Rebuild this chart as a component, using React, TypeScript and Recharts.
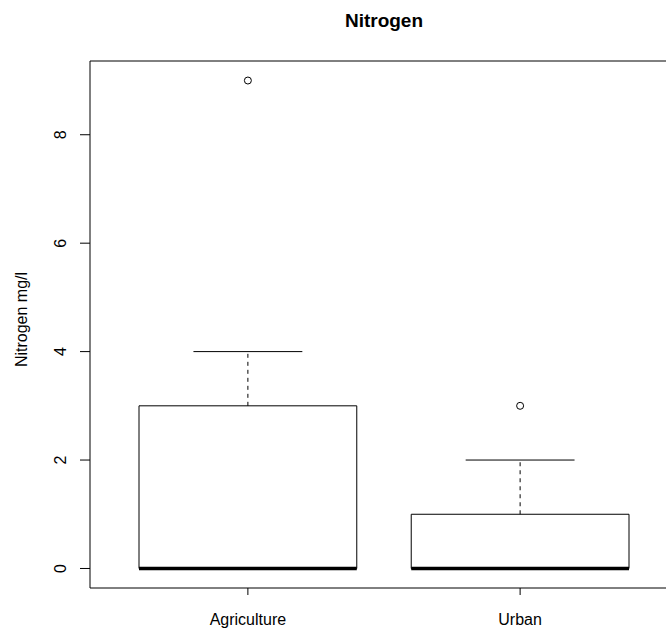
import React from 'react';
import {
  ComposedChart,
  XAxis,
  YAxis,
  Scatter,
  ReferenceArea,
  ReferenceLine,
  Label,
} from 'recharts';

const categories = ['Agriculture', 'Urban'];
const positions = [1, 2];
const lowerWhisker = [0, 0];
const q1 = [0, 0];
const median = [0, 0];
const q3 = [3, 1];
const upperWhisker = [4, 2];
const outliers = [
  { x: 1, y: 9 },
  { x: 2, y: 3 },
];
const yTicks = [0, 2, 4, 6, 8];

const X_DOMAIN: [number, number] = [0.42, 2.58];
const Y_DOMAIN: [number, number] = [-0.36, 9.36];
const BOX_HALF = 0.4;
const CAP_HALF = 0.2;
const FONT = '"Liberation Sans", Arial, sans-serif';

const YTick = (props: any) => {
  const { x, y, payload } = props;
  return (
    <text
      x={x}
      y={y}
      dy={5.7}
      textAnchor="middle"
      fontFamily={FONT}
      fontSize={16}
      fill="#000"
      transform={`rotate(-90, ${x}, ${y})`}
    >
      {payload.value}
    </text>
  );
};

const YLabel = (props: any) => {
  const vb = props.viewBox || {};
  const cy = vb.y !== undefined ? vb.y + vb.height / 2 - 5 : 319;
  const lx = 27;
  return (
    <text
      x={lx}
      y={cy}
      textAnchor="middle"
      fontFamily={FONT}
      fontSize={16}
      fill="#000"
      transform={`rotate(-90, ${lx}, ${cy})`}
    >
      Nitrogen mg/l
    </text>
  );
};

const OutlierDot = (props: any) => {
  const { cx, cy } = props;
  return <circle cx={cx} cy={cy} r={3.5} fill="#fff" stroke="#000" strokeWidth={1} />;
};

export default function App() {
  return (
    <div
      style={{
        position: 'absolute',
        left: 0,
        top: 0,
        width: 666,
        height: 631,
        overflow: 'hidden',
        background: '#fff',
      }}
    >
      <div
        style={{
          position: 'absolute',
          left: 0,
          top: 11.4,
          width: 768,
          textAlign: 'center',
          fontFamily: FONT,
          fontWeight: 'bold',
          fontSize: 19,
          lineHeight: '19px',
          color: '#000',
        }}
      >
        Nitrogen
      </div>
      <ComposedChart
        width={700}
        height={631}
        margin={{ top: 61, right: 22, bottom: 0, left: 0 }}
      >
        <XAxis
          type="number"
          dataKey="x"
          domain={X_DOMAIN}
          ticks={positions}
          tickFormatter={(v: number) => categories[Math.round(v) - 1]}
          allowDataOverflow
          axisLine={false}
          tickSize={7}
          tickMargin={19}
          height={43}
          tickLine={{ stroke: '#000' }}
          tick={{ fontFamily: FONT, fontSize: 16, fill: '#000' }}
          interval={0}
        />
        <YAxis
          type="number"
          dataKey="y"
          domain={Y_DOMAIN}
          ticks={yTicks}
          allowDataOverflow
          axisLine={false}
          tickSize={10}
          tickMargin={20}
          width={90}
          tickLine={{ stroke: '#000' }}
          tick={<YTick />}
          interval={0}
        >
          <Label content={<YLabel />} />
        </YAxis>

        {/* plot frame */}
        <ReferenceArea
          x1={X_DOMAIN[0]}
          x2={X_DOMAIN[1]}
          y1={Y_DOMAIN[0]}
          y2={Y_DOMAIN[1]}
          fill="none"
          fillOpacity={0}
          stroke="#000"
          strokeWidth={1}
          strokeOpacity={1}
        />

        {positions.map((p, i) => (
          <ReferenceLine
            key={`wu-${i}`}
            segment={[
              { x: p, y: q3[i] },
              { x: p, y: upperWhisker[i] },
            ]}
            stroke="#000"
            strokeWidth={1}
            strokeDasharray="4 4"
          />
        ))}
        {positions.map((p, i) => (
          <ReferenceLine
            key={`wl-${i}`}
            segment={[
              { x: p, y: lowerWhisker[i] },
              { x: p, y: q1[i] },
            ]}
            stroke="#000"
            strokeWidth={1}
            strokeDasharray="4 4"
          />
        ))}
        {positions.map((p, i) => (
          <ReferenceLine
            key={`cu-${i}`}
            segment={[
              { x: p - CAP_HALF, y: upperWhisker[i] },
              { x: p + CAP_HALF, y: upperWhisker[i] },
            ]}
            stroke="#000"
            strokeWidth={1}
          />
        ))}
        {positions.map((p, i) => (
          <ReferenceLine
            key={`cl-${i}`}
            segment={[
              { x: p - CAP_HALF, y: lowerWhisker[i] },
              { x: p + CAP_HALF, y: lowerWhisker[i] },
            ]}
            stroke="#000"
            strokeWidth={1}
          />
        ))}
        {positions.map((p, i) => (
          <ReferenceArea
            key={`box-${i}`}
            x1={p - BOX_HALF}
            x2={p + BOX_HALF}
            y1={q1[i]}
            y2={q3[i]}
            fill="#fff"
            fillOpacity={1}
            stroke="#000"
            strokeWidth={1}
            strokeOpacity={1}
          />
        ))}
        {positions.map((p, i) => (
          <ReferenceLine
            key={`med-${i}`}
            segment={[
              { x: p - BOX_HALF, y: median[i] },
              { x: p + BOX_HALF, y: median[i] },
            ]}
            stroke="#000"
            strokeWidth={3.5}
          />
        ))}

        <Scatter
          data={outliers}
          dataKey="y"
          isAnimationActive={false}
          shape={<OutlierDot />}
        />
      </ComposedChart>
    </div>
  );
}
